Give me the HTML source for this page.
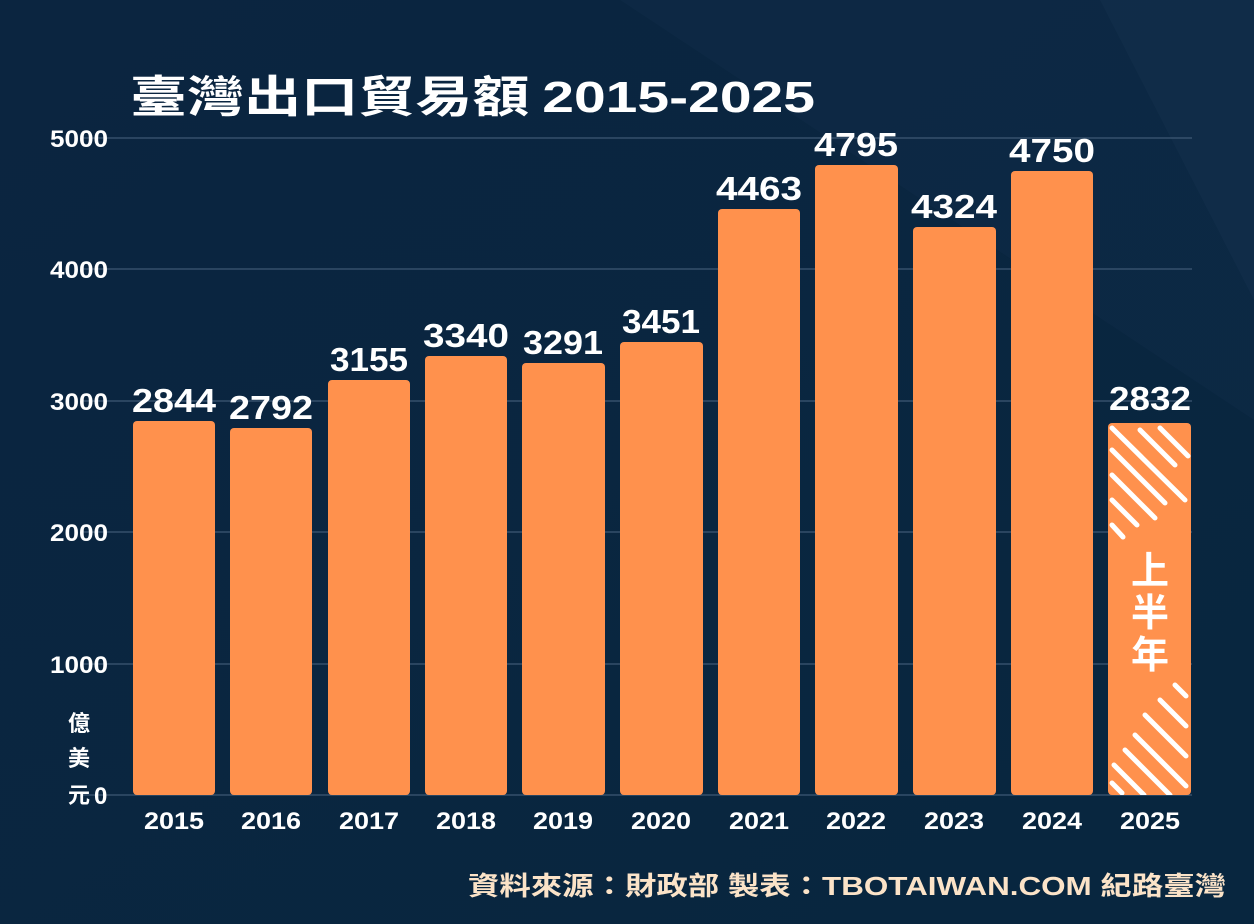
<!DOCTYPE html>
<html><head><meta charset="utf-8"><style>
html,body{margin:0;padding:0;background:#0a2540;}
svg{display:block}
</style></head><body>
<svg width="1254" height="924" viewBox="0 0 1254 924" xmlns="http://www.w3.org/2000/svg">
<defs>
<linearGradient id="bg" x1="0" y1="0" x2="1" y2="1">
<stop offset="0" stop-color="#0b2540"/><stop offset="1" stop-color="#08263f"/>
</linearGradient>
<clipPath id="c25"><rect x="1108" y="423" width="83" height="372" rx="4"/></clipPath>
</defs>
<rect width="1254" height="924" fill="url(#bg)"/>
<polygon points="620,0 1254,0 1254,420" fill="#0f2b47" opacity="0.5"/>
<polygon points="1100,0 1254,0 1254,300" fill="#13304d" opacity="0.5"/>
<g font-family="Liberation Sans, 'Noto Sans CJK TC', sans-serif" fill="#fff">
<text x="130" y="112" font-size="44" font-weight="bold" font-family="'Noto Sans CJK TC', sans-serif" textLength="685" lengthAdjust="spacingAndGlyphs">臺灣出口貿易額 <tspan font-family="Liberation Sans, sans-serif">2015-2025</tspan></text>
<g stroke="#4a6480" stroke-width="1">
<line x1="82" y1="138" x2="1192" y2="138"/><line x1="82" y1="269" x2="1192" y2="269"/>
<line x1="82" y1="401" x2="1192" y2="401"/><line x1="82" y1="532" x2="1192" y2="532"/>
<line x1="82" y1="664" x2="1192" y2="664"/><line x1="82" y1="795" x2="1192" y2="795"/>
</g>
<g font-size="24" font-weight="bold">
<text x="50" y="147" textLength="58" lengthAdjust="spacingAndGlyphs">5000</text>
<text x="50" y="278" textLength="58" lengthAdjust="spacingAndGlyphs">4000</text>
<text x="50" y="410" textLength="58" lengthAdjust="spacingAndGlyphs">3000</text>
<text x="50" y="541" textLength="58" lengthAdjust="spacingAndGlyphs">2000</text>
<text x="50" y="673" textLength="58" lengthAdjust="spacingAndGlyphs">1000</text>
<text x="94" y="804">0</text>
</g>
<g font-size="22" font-weight="bold" font-family="'Noto Sans CJK TC', sans-serif" text-anchor="middle">
<text x="79" y="731">億</text><text x="79" y="766">美</text><text x="79" y="803">元</text>
</g>
<g fill="#ff914d">
<rect x="133" y="421" width="82" height="374" rx="4"/>
<rect x="230" y="428" width="82" height="367" rx="4"/>
<rect x="328" y="380" width="82" height="415" rx="4"/>
<rect x="425" y="356" width="82" height="439" rx="4"/>
<rect x="522" y="363" width="83" height="432" rx="4"/>
<rect x="620" y="342" width="83" height="453" rx="4"/>
<rect x="718" y="209" width="82" height="586" rx="4"/>
<rect x="815" y="165" width="83" height="630" rx="4"/>
<rect x="913" y="227" width="83" height="568" rx="4"/>
<rect x="1011" y="171" width="82" height="624" rx="4"/>
<rect x="1108" y="423" width="83" height="372" rx="4"/>
</g>
<g clip-path="url(#c25)" stroke="#fff" stroke-width="5" stroke-linecap="round">
<line x1="1112" y1="428" x2="1185" y2="500"/>
<line x1="1140" y1="430" x2="1175" y2="465"/>
<line x1="1160" y1="428" x2="1188" y2="456"/>
<line x1="1112" y1="450" x2="1165" y2="503"/>
<line x1="1112" y1="475" x2="1155" y2="518"/>
<line x1="1112" y1="500" x2="1137" y2="525"/>
<line x1="1112" y1="525" x2="1123" y2="537"/>
<line x1="1175" y1="685" x2="1186" y2="696"/>
<line x1="1160" y1="700" x2="1186" y2="726"/>
<line x1="1145" y1="715" x2="1186" y2="756"/>
<line x1="1135" y1="735" x2="1186" y2="786"/>
<line x1="1125" y1="750" x2="1170" y2="795"/>
<line x1="1114" y1="765" x2="1144" y2="795"/>
<line x1="1112" y1="783" x2="1122" y2="793"/>
</g>
<g font-size="38" font-weight="bold" font-family="'Noto Sans CJK TC', sans-serif" text-anchor="middle">
<text x="1150" y="584">上</text><text x="1150" y="626">半</text><text x="1150" y="668">年</text>
</g>
<g font-size="33" font-weight="bold" text-anchor="middle">
<text x="174" y="412" textLength="84" lengthAdjust="spacingAndGlyphs">2844</text>
<text x="271" y="419" textLength="84" lengthAdjust="spacingAndGlyphs">2792</text>
<text x="369" y="371" textLength="78" lengthAdjust="spacingAndGlyphs">3155</text>
<text x="466" y="347" textLength="86" lengthAdjust="spacingAndGlyphs">3340</text>
<text x="563" y="354" textLength="80" lengthAdjust="spacingAndGlyphs">3291</text>
<text x="661" y="333" textLength="78" lengthAdjust="spacingAndGlyphs">3451</text>
<text x="759" y="200" textLength="86" lengthAdjust="spacingAndGlyphs">4463</text>
<text x="856" y="156" textLength="84" lengthAdjust="spacingAndGlyphs">4795</text>
<text x="954" y="218" textLength="86" lengthAdjust="spacingAndGlyphs">4324</text>
<text x="1052" y="162" textLength="86" lengthAdjust="spacingAndGlyphs">4750</text>
<text x="1150" y="410" textLength="82" lengthAdjust="spacingAndGlyphs">2832</text>
</g>
<g font-size="24" font-weight="bold" text-anchor="middle">
<text x="174" y="829" textLength="60" lengthAdjust="spacingAndGlyphs">2015</text>
<text x="271" y="829" textLength="60" lengthAdjust="spacingAndGlyphs">2016</text>
<text x="369" y="829" textLength="60" lengthAdjust="spacingAndGlyphs">2017</text>
<text x="466" y="829" textLength="60" lengthAdjust="spacingAndGlyphs">2018</text>
<text x="563" y="829" textLength="60" lengthAdjust="spacingAndGlyphs">2019</text>
<text x="661" y="829" textLength="60" lengthAdjust="spacingAndGlyphs">2020</text>
<text x="759" y="829" textLength="60" lengthAdjust="spacingAndGlyphs">2021</text>
<text x="856" y="829" textLength="60" lengthAdjust="spacingAndGlyphs">2022</text>
<text x="954" y="829" textLength="60" lengthAdjust="spacingAndGlyphs">2023</text>
<text x="1052" y="829" textLength="60" lengthAdjust="spacingAndGlyphs">2024</text>
<text x="1150" y="829" textLength="60" lengthAdjust="spacingAndGlyphs">2025</text>
</g>
<text x="468" y="895" font-size="26" font-weight="bold" fill="#fbe3c8" textLength="758" lengthAdjust="spacingAndGlyphs" font-family="Liberation Sans, 'Noto Sans CJK TC', sans-serif">資料來源：財政部  製表：TBOTAIWAN.COM 紀路臺灣</text>
</g>
</svg>
</body></html>
